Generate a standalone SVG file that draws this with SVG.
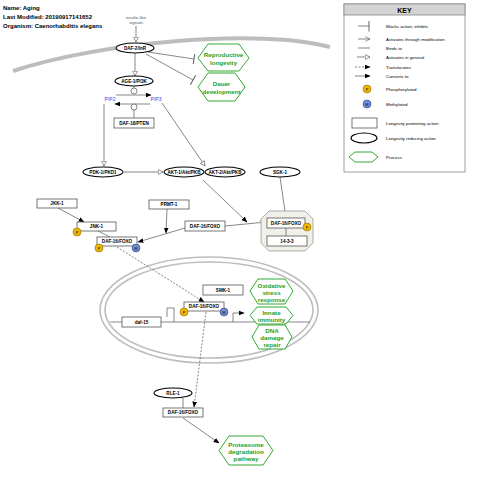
<svg xmlns="http://www.w3.org/2000/svg" width="480" height="485" viewBox="0 0 480 485">
<style>
text{font-family:"Liberation Sans",Arial,sans-serif;}
.hdr{font-size:6px;font-weight:bold;fill:#000;}
.lbl{font-size:4.6px;font-weight:bold;fill:#000;text-anchor:middle;}
.sm{font-size:4.4px;fill:#555;text-anchor:middle;}
.key{font-size:4.4px;fill:#000;}
.proc{font-size:6.2px;font-weight:bold;fill:#22a022;text-anchor:middle;}
.pip{font-size:5px;fill:#3344dd;text-anchor:middle;}
.ell{fill:#fff;stroke:#000;stroke-width:1.1;}
.box{fill:#fff;stroke:#555;stroke-width:0.8;}
.hex{fill:#fff;stroke:#33aa33;stroke-width:1;}
.ln{stroke:#555;stroke-width:0.7;fill:none;}
.dash{stroke:#555;stroke-width:0.7;fill:none;stroke-dasharray:2,1.5;}
.mem{stroke:#bdbdbd;fill:none;}
.ph{fill:#f2b705;stroke:#8a6a00;stroke-width:0.6;}
.me{fill:#6f8fd8;stroke:#2a3f80;stroke-width:0.6;}
.pm{font-size:4px;fill:#000;text-anchor:middle;}
</style>
<defs>
<marker id="open" viewBox="0 0 10 10" refX="9" refY="5" markerWidth="6" markerHeight="6" orient="auto" markerUnits="userSpaceOnUse"><path d="M1,1 L9,5 L1,9 Z" fill="#fff" stroke="#555" stroke-width="1"/></marker>
<marker id="fill" viewBox="0 0 10 10" refX="9" refY="5" markerWidth="6" markerHeight="6" orient="auto" markerUnits="userSpaceOnUse"><path d="M0,1 L10,5 L0,9 Z" fill="#000"/></marker>
<marker id="stick" viewBox="0 0 10 10" refX="9" refY="5" markerWidth="6" markerHeight="6" orient="auto" markerUnits="userSpaceOnUse"><path d="M1,1 L9,5 L1,9" fill="none" stroke="#555" stroke-width="1"/></marker>
<marker id="tee" viewBox="0 0 4 12" refX="2" refY="6" markerWidth="4" markerHeight="11" orient="auto" markerUnits="userSpaceOnUse"><path d="M2,0 V12" stroke="#555" stroke-width="1"/></marker>
</defs>

<g id="header">
<text class="hdr" x="3" y="10">Name: Aging</text>
<text class="hdr" x="3" y="19">Last Modified: 20190917141652</text>
<text class="hdr" x="3" y="28">Organism: Caenorhabditis elegans</text>
</g>

<g id="compartments">
<path class="mem" stroke-width="4" d="M13,71 C100,42 260,28 330,47"/>
<ellipse class="mem" stroke-width="1.6" cx="209" cy="310" rx="109" ry="53"/>
<ellipse class="mem" stroke-width="1.6" cx="209" cy="310" rx="104" ry="48"/>
<path class="ln" d="M110,322 H310"/>
</g>

<g id="connectors">
<text class="sm" x="136" y="19">insulin-like</text>
<text class="sm" x="136" y="24">signals</text>
<path class="ln" d="M136,26 V42" marker-end="url(#open)"/>
<path class="ln" d="M135,53 V76" marker-end="url(#open)"/>
<path class="ln" d="M148,52 L194,59" marker-end="url(#tee)"/>
<path class="ln" d="M146,54 L193,80" marker-end="url(#tee)"/>
<path class="ln" d="M134,86 V88"/>
<circle cx="134" cy="91" r="3" fill="#fff" stroke="#555" stroke-width="0.7"/>
<path class="ln" d="M116,95 H151" marker-end="url(#fill)"/>
<path class="ln" d="M150,104 H115" marker-end="url(#fill)"/>
<circle cx="134" cy="107" r="3" fill="#fff" stroke="#555" stroke-width="0.7"/>
<path class="ln" d="M134,110 V118"/>
<path class="ln" d="M104,104 V166" marker-end="url(#open)"/>
<path class="ln" d="M162,103 L205,166" marker-end="url(#open)"/>
<path class="ln" d="M124,172 H163" marker-end="url(#open)"/>
<path class="ln" d="M203,180 L247,222" marker-end="url(#fill)"/>
<path class="ln" d="M280,177 L286,218" marker-end="url(#fill)"/>
<path class="ln" d="M225,226 L266,222" marker-end="url(#fill)"/>
<path class="ln" d="M58,208 L84,222" marker-end="url(#fill)"/>
<path class="ln" d="M98,231 L110,237"/>
<path class="ln" d="M185,228 L138,242" marker-end="url(#fill)"/>
<path class="ln" d="M167,209 L166,233" marker-end="url(#fill)"/>
<path class="dash" d="M117,247 L204,302" marker-end="url(#fill)"/>
<path class="dash" d="M206,312 L194,407" marker-end="url(#fill)"/>
<path class="ln" d="M167,317 V308 H174 V322"/>
<path class="ln" d="M233,322 V313 H244" marker-end="url(#fill)"/>
<path class="ln" d="M183,398 V408"/>
<path class="ln" d="M183,418 L219,443" marker-end="url(#fill)"/>
<text class="pip" x="110" y="101">PIP2</text>
<text class="pip" x="156" y="101">PIP3</text>
</g>

<g id="DAF-2">
<ellipse class="ell" cx="135" cy="48" rx="19" ry="5"/>
<text class="lbl" x="135" y="49.7">DAF-2/InR</text>
</g>
<g id="AGE-1">
<ellipse class="ell" cx="134" cy="81" rx="19" ry="5"/>
<text class="lbl" x="134" y="82.7">AGE-1/PI3K</text>
</g>
<g id="DAF-18">
<rect class="box" x="114" y="118" width="40" height="10"/>
<text class="lbl" x="134" y="124.7">DAF-18/PTEN</text>
</g>
<g id="PDK-1">
<ellipse class="ell" cx="103" cy="172" rx="20" ry="5"/>
<text class="lbl" x="103" y="173.7">PDK-1/PKD1</text>
</g>
<g id="AKT-1">
<ellipse class="ell" cx="184" cy="172" rx="20" ry="5"/>
<text class="lbl" x="184" y="173.7">AKT-1/Akt/PKB</text>
</g>
<g id="AKT-2">
<ellipse class="ell" cx="225" cy="172" rx="20" ry="5"/>
<text class="lbl" x="225" y="173.7">AKT-2/Akt/PKB</text>
</g>
<g id="SGK-1">
<ellipse class="ell" cx="280" cy="172" rx="20" ry="5"/>
<text class="lbl" x="280" y="173.7">SGK-1</text>
</g>
<g id="JKK-1">
<rect class="box" x="37" y="199" width="40" height="9"/>
<text class="lbl" x="57" y="205.2">JKK-1</text>
</g>
<g id="JNK-1">
<rect class="box" x="77" y="222" width="39" height="9"/>
<text class="lbl" x="96.5" y="228.2">JNK-1</text>
<circle class="ph" cx="77" cy="232" r="4"/><text class="pm" x="77" y="233.5">P</text>
</g>
<g id="PRMT-1">
<rect class="box" x="149" y="200" width="40" height="9"/>
<text class="lbl" x="169" y="206.2">PRMT-1</text>
</g>
<g id="DAF-16-cyto">
<rect class="box" x="97" y="237" width="40" height="9"/>
<text class="lbl" x="117" y="243.2">DAF-16/FOXO</text>
<circle class="ph" cx="99" cy="248" r="4"/><text class="pm" x="99" y="249.5">P</text>
<circle class="me" cx="136" cy="248" r="4"/><text class="pm" x="136" y="249.5">M</text>
</g>
<g id="DAF-16-mid">
<rect class="box" x="185" y="221" width="40" height="10"/>
<text class="lbl" x="205" y="227.7">DAF-16/FOXO</text>
</g>
<g id="complex">
<path d="M269,211 H305 L313,219 V243 L305,251 H269 L261,243 V219 Z" fill="#f1f0e8" stroke="#999" stroke-width="0.8"/>
<path class="ln" d="M286,228 V236"/>
<rect class="box" x="267" y="218" width="38" height="10"/>
<text class="lbl" x="286" y="224.7">DAF-16/FOXO</text>
<circle class="ph" cx="307" cy="227" r="4"/><text class="pm" x="307" y="228.5">P</text>
<rect class="box" x="267" y="236" width="40" height="10"/>
<text class="lbl" x="287" y="242.7">14-3-3</text>
</g>
<g id="SMK-1">
<rect class="box" x="203" y="285" width="40" height="10"/>
<text class="lbl" x="223" y="291.7">SMK-1</text>
</g>
<g id="DAF-16-nuc">
<rect class="box" x="184" y="302" width="40" height="9"/>
<text class="lbl" x="204" y="308.2">DAF-16/FOXO</text>
<circle class="ph" cx="184" cy="312" r="4"/><text class="pm" x="184" y="313.5">P</text>
<circle class="me" cx="224" cy="312" r="4"/><text class="pm" x="224" y="313.5">M</text>
</g>
<g id="daf-15">
<rect class="box" x="122" y="317" width="39" height="10"/>
<text class="lbl" x="141.5" y="323.7">daf-15</text>
</g>
<g id="RLE-1">
<ellipse class="ell" cx="173" cy="393" rx="19" ry="5"/>
<text class="lbl" x="173" y="394.7">RLE-1</text>
</g>
<g id="DAF-16-low">
<rect class="box" x="163" y="408" width="40" height="9"/>
<text class="lbl" x="183" y="414.2">DAF-16/FOXO</text>
</g>

<g id="repro">
<path class="hex" d="M198,58 L208,44 H239 L249,58 L239,71 H208 Z"/>
<text class="proc" x="223.5" y="57">Reproductive</text>
<text class="proc" x="223.5" y="65">longevity</text>
</g>
<g id="dauer">
<path class="hex" d="M198,87 L208,73 H235 L245,87 L235,101 H208 Z"/>
<text class="proc" x="221.5" y="86">Dauer</text>
<text class="proc" x="221.5" y="94">development</text>
</g>
<g id="oxid">
<path class="hex" d="M250,291 L258,279 H285 L293,291 L285,304 H258 Z"/>
<text class="proc" x="271.5" y="288">Oxidative</text>
<text class="proc" x="271.5" y="295">stress</text>
<text class="proc" x="271.5" y="302">response</text>
</g>
<g id="innate">
<path class="hex" d="M250,315.5 L257,307 H286 L293,315.5 L286,324 H257 Z"/>
<text class="proc" x="271.5" y="315">Innate</text>
<text class="proc" x="271.5" y="322">immunity</text>
</g>
<g id="dna">
<path class="hex" d="M252,337 L259,325 H285 L292,337 L285,349 H259 Z"/>
<text class="proc" x="272" y="333">DNA</text>
<text class="proc" x="272" y="340">damage</text>
<text class="proc" x="272" y="347">repair</text>
</g>
<g id="proteasome">
<path class="hex" d="M219,450.5 L229,436 H263 L273,450.5 L263,465 H229 Z"/>
<text class="proc" x="246" y="447">Proteasome</text>
<text class="proc" x="246" y="454">degradation</text>
<text class="proc" x="246" y="461">pathway</text>
</g>

<g id="key">
<rect x="344" y="4" width="121" height="168" fill="#fff" stroke="#888" stroke-width="0.8"/>
<rect x="344" y="4" width="121" height="11" fill="#d4d4d4" stroke="#888" stroke-width="0.8"/>
<text x="404.5" y="12.5" font-size="7" font-weight="bold" text-anchor="middle">KEY</text>
<path class="ln" d="M358,26 H369" marker-end="url(#tee)"/>
<text class="key" x="386" y="28">Blocks action, inhibits</text>
<path class="ln" d="M358,39 H370" marker-end="url(#stick)"/>
<text class="key" x="386" y="41">Activates through modification</text>
<path class="ln" d="M358,48 H370"/>
<text class="key" x="386" y="50">Binds to</text>
<path class="ln" d="M357,57 H370" marker-end="url(#open)"/>
<text class="key" x="386" y="59">Activates in general</text>
<path class="dash" d="M355,67 H370" marker-end="url(#fill)"/>
<text class="key" x="386" y="68.5">Translocates</text>
<path class="ln" d="M355,76 H370" marker-end="url(#fill)"/>
<text class="key" x="386" y="77.5">Converts to</text>
<circle class="ph" cx="367" cy="89" r="4"/><text class="pm" x="367" y="90.5">P</text>
<text class="key" x="386" y="91">Phosphorylated</text>
<circle class="me" cx="367" cy="104" r="4"/><text class="pm" x="367" y="105.5">M</text>
<text class="key" x="386" y="106">Methylated</text>
<rect class="box" x="352" y="118" width="25" height="10"/>
<text class="key" x="386" y="125">Longevity promoting action</text>
<ellipse class="ell" cx="364" cy="138" rx="13" ry="5"/>
<text class="key" x="386" y="140">Longevity reducing action</text>
<path class="hex" d="M349,157 L355,152 H372 L378,157 L372,162 H355 Z"/>
<text class="key" x="386" y="159">Process</text>
</g>
</svg>
